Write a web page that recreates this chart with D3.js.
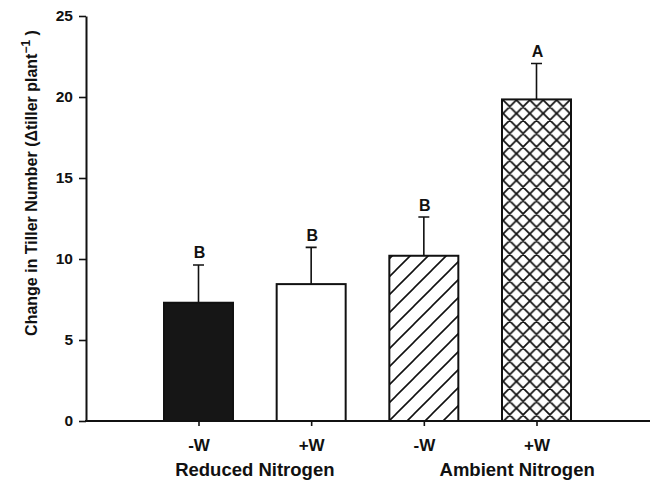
<!DOCTYPE html>
<html>
<head>
<meta charset="utf-8">
<script src="https://cdn.jsdelivr.net/npm/d3@7"></script>
<style>
  body { margin: 0; background: #fff; }
  text { font-family: "Liberation Sans", Arial, sans-serif; font-weight: bold; fill: #111; }
</style>
</head>
<body>
<div id="chart"></div>
<script>
// values
const categories = ["-W", "+W", "-W", "+W"];
const groups = ["Reduced Nitrogen", "Ambient Nitrogen"];
const means = [7.3, 8.45, 10.2, 19.85];
const errors = [2.33, 2.27, 2.39, 2.22];
const letters = ["B", "B", "B", "A"];
const yTicks = [0, 5, 10, 15, 20, 25];

const width = 651,
    height = 483;

const svg = d3.select("#chart")
    .append("svg")
    .attr("width", width)
    .attr("height", height);

const x = d3.scalePoint()
    .domain(d3.range(categories.length))
    .range([198.5, 536.5]);

const y = d3.scaleLinear()
    .domain([0, 25])
    .range([421, 16]);

const barWidth = 69;

// patterns for the hatched bars
const defs = svg.append("defs");
const hatch = defs.append("pattern")
    .attr("id", "hatch")
    .attr("patternUnits", "userSpaceOnUse")
    .attr("width", 18).attr("height", 18);
hatch.append("path")
    .attr("d", "M-2,2 L2,-2 M0,18 L18,0 M16,20 L20,16")
    .attr("stroke", "#111").attr("stroke-width", 1.6);

const cross = defs.append("pattern")
    .attr("id", "cross")
    .attr("patternUnits", "userSpaceOnUse")
    .attr("x", 503).attr("y", 100)
    .attr("width", 13.4).attr("height", 13.4);
cross.append("path")
    .attr("d", "M0,0 L13.4,13.4 M0,13.4 L13.4,0 M-2,2 L2,-2 M11.4,15.4 L15.4,11.4 M-2,11.4 L2,15.4 M11.4,-2 L15.4,2")
    .attr("stroke", "#111").attr("stroke-width", 1.8);

const fills = ["#161616", "#fff", "url(#hatch)", "url(#cross)"];

const idx = d3.range(categories.length);

// error bars (drawn first so the bar outline sits on top)
svg.selectAll(".err")
    .data(idx)
    .enter().append("path")
    .attr("class", "err")
    .attr("d", i => `M${x(i)},${y(means[i])} V${y(means[i] + errors[i])} M${x(i) - 5.5},${y(means[i] + errors[i])} H${x(i) + 5.5}`)
    .attr("stroke", "#111")
    .attr("stroke-width", 1.6)
    .attr("fill", "none");

svg.selectAll(".bar")
    .data(idx)
    .enter().append("rect")
    .attr("class", "bar")
    .attr("x", i => x(i) - barWidth / 2)
    .attr("y", i => y(means[i]))
    .attr("width", barWidth)
    .attr("height", i => y(0) - y(means[i]))
    .attr("fill", i => fills[i])
    .attr("stroke", "#111")
    .attr("stroke-width", 2);

svg.selectAll(".letter")
    .data(idx)
    .enter().append("text")
    .attr("class", "letter")
    .attr("x", i => x(i) + 1)
    .attr("y", i => y(means[i] + errors[i]) - 6.5)
    .attr("text-anchor", "middle")
    .style("font-size", "16px")
    .text(i => letters[i]);

// y axis
const yAxis = svg.append("g")
    .attr("transform", "translate(86,0)")
    .call(d3.axisLeft(y).tickValues(yTicks).tickSize(7).tickPadding(6).tickSizeOuter(0));
yAxis.select(".domain").attr("stroke", "#111").attr("stroke-width", 2);
yAxis.selectAll(".tick line").attr("stroke", "#111").attr("stroke-width", 1.6);
yAxis.selectAll(".tick text")
    .style("font-size", "15.5px")
    .style("font-family", "'Liberation Sans', Arial, sans-serif")
    .style("font-weight", "bold")
    .attr("fill", "#111");

// x axis
const xAxis = svg.append("g")
    .attr("transform", `translate(0,${y(0)})`)
    .call(d3.axisBottom(x).tickSize(5).tickPadding(13).tickFormat(i => categories[i]));
xAxis.select(".domain").remove();
xAxis.append("line")
    .attr("x1", 85).attr("x2", 650)
    .attr("stroke", "#111").attr("stroke-width", 2);
xAxis.selectAll(".tick line").attr("stroke", "#111").attr("stroke-width", 1.6);
xAxis.selectAll(".tick text")
    .style("font-size", "17px")
    .style("font-family", "'Liberation Sans', Arial, sans-serif")
    .style("font-weight", "bold")
    .attr("fill", "#111");

// group labels
const groupShift = [0, 37];
svg.selectAll(".group")
    .data(groups)
    .enter().append("text")
    .attr("class", "group")
    .attr("x", (d, g) => (x(g * 2) + x(g * 2 + 1)) / 2 + groupShift[g])
    .attr("y", 476)
    .attr("text-anchor", "middle")
    .style("font-size", "18.5px")
    .text(d => d);

// y axis title
const title = svg.append("text")
    .attr("transform", "translate(37,183) rotate(-90)")
    .attr("text-anchor", "middle")
    .style("font-size", "16px");
title.append("tspan").text("Change in Tiller Number (\u0394tiller plant");
title.append("tspan").attr("dy", -7).style("font-size", "12px").text("\u22121");
title.append("tspan").attr("dy", 7).text(" )");
</script>
</body>
</html>
